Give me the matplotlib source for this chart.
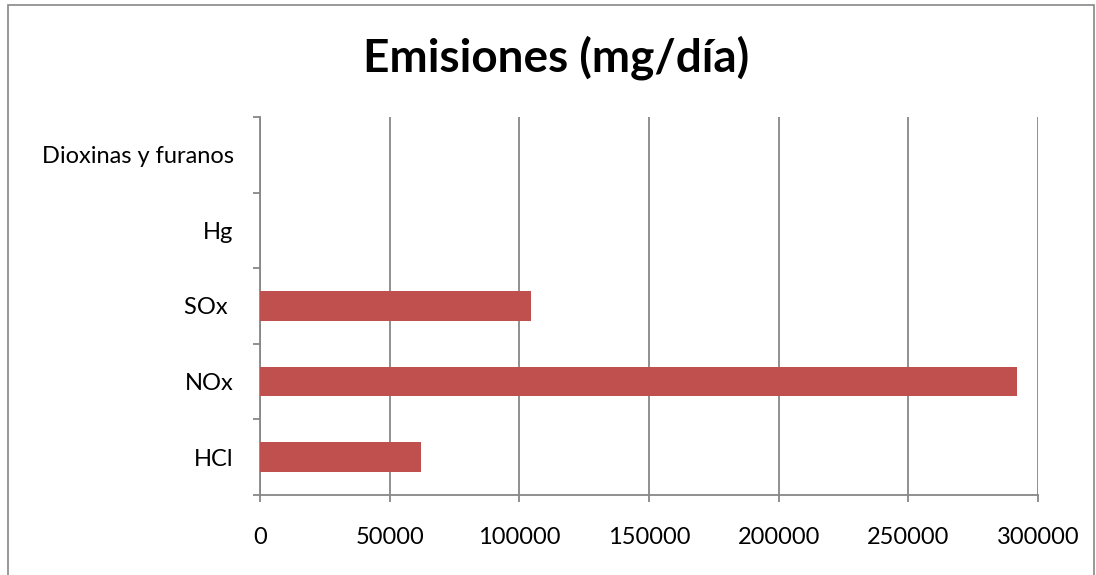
import matplotlib.pyplot as plt
from matplotlib.patches import Rectangle
from matplotlib.ticker import MultipleLocator, FixedLocator

plt.rcParams['font.family'] = ['Lato', 'DejaVu Sans']

categories = ['HCl', 'NOx', 'SOx ', 'Hg', 'Dioxinas y furanos']
emisiones = [62000, 292000, 104500, 60, 0.001]

GRAY = '#878787'
BAR = '#C0504D'

fig = plt.figure(figsize=(10.96, 5.75), dpi=100)
ax = fig.add_axes([260 / 1096, 80 / 575, 778 / 1096, 378 / 575])

# chart frame
fig.patches.append(Rectangle((8 / 1096, -0.05), 1086 / 1096, 1.05 - 5 / 575,
                             transform=fig.transFigure, fill=False,
                             edgecolor=GRAY, linewidth=1.2, clip_on=False))

y = range(len(categories))
ax.barh(y, emisiones, height=0.39, color=BAR, zorder=3)

ax.set_xlim(0, 300000)
ax.set_ylim(-0.5, len(categories) - 0.5)
ax.xaxis.set_major_locator(MultipleLocator(50000))
ax.set_yticks(list(y))
ax.set_yticklabels(categories)
ax.yaxis.set_minor_locator(FixedLocator([i - 0.5 for i in range(len(categories) + 1)]))

ax.grid(axis='x', color=GRAY, linewidth=1.3, zorder=0)
for s in ['top', 'right']:
    ax.spines[s].set_visible(False)
for s in ['left', 'bottom']:
    ax.spines[s].set_color(GRAY)
    ax.spines[s].set_linewidth(1.3)

ax.tick_params(axis='x', length=5, width=1.3, color=GRAY, pad=18, labelsize=17)
ax.tick_params(axis='y', which='major', length=0, pad=19, labelsize=17)
ax.tick_params(axis='y', which='minor', length=5, width=1.3, color=GRAY)

fig.text(556 / 1096, 1 - 58 / 575, 'Emisiones (mg/día)', ha='center', va='center',
         fontsize=33, fontweight='bold')

fig.savefig('out.png', dpi=100)
